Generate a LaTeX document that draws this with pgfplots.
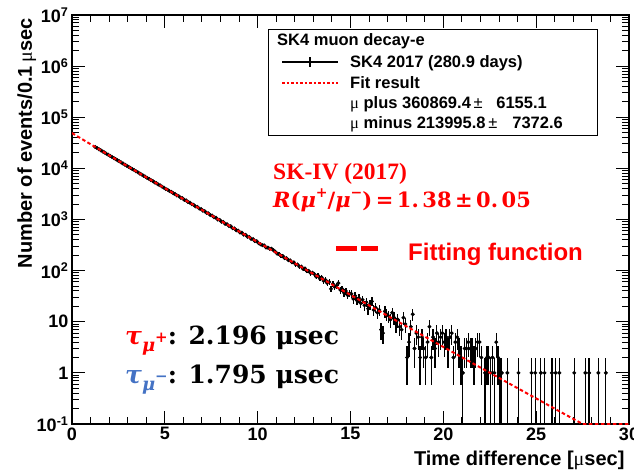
\documentclass[border=0pt]{standalone}
\usepackage{fontspec}
\setmainfont{Liberation Sans}
\newfontfamily\cam{Liberation Serif}
\newfontfamily\camb{DejaVu Serif}
\newfontfamily\sym{Liberation Serif}
\usepackage{pgfplots}
\pgfplotsset{compat=1.18}
\definecolor{skred}{RGB}{255,0,0}
\definecolor{skblue}{RGB}{68,114,196}

% decay-e time histogram, 0.1 usec bins (empty bins left out)
\pgfplotstableread{
t n e
1.25 26240 162
1.35 24910 158
1.45 23690 154
1.55 22590 150
1.65 21420 146
1.75 20450 143
1.85 19380 139
1.95 18520 136
2.05 17550 132
2.15 16760 129
2.25 15890 126
2.35 15170 123
2.45 14380 120
2.55 13750 117
2.65 13010 114
2.75 12450 112
2.85 11790 109
2.95 11270 106
3.05 10680 103
3.15 10210 101
3.25 9660 98
3.35 9250 96
3.45 8750 94
3.55 8390 92
3.65 7920 89
3.75 7600 87
3.85 7170 85
3.95 6880 83
4.05 6500 81
4.15 6240 79
4.25 5890 77
4.35 5660 75
4.45 5330 73
4.55 5130 72
4.65 4830 70
4.75 4650 68
4.85 4380 66
4.95 4210 65
5.05 3960 63
5.15 3820 62
5.25 3600 60
5.35 3470 59
5.45 3260 57
5.55 3150 56
5.65 2950 54
5.75 2860 53
5.85 2670 52
5.95 2600 51
6.05 2420 49
6.15 2360 49
6.25 2200 47
6.35 2135 46
6.45 1995 45
6.55 1940 44
6.65 1805 42
6.75 1765 42
6.85 1635 40
6.95 1600 40
7.05 1485 39
7.15 1450 38
7.25 1345 37
7.35 1320 36
7.45 1220 35
7.55 1195 35
7.65 1105 33
7.75 1085 33
7.85 1000 32
7.95 985 31
8.05 905 30
8.15 895 30
8.25 822 29
8.35 812 28
8.45 745 27
8.55 738 27
8.65 676 26
8.75 668 26
8.85 615 25
8.95 606 25
9.05 556 24
9.15 552 23
9.25 505 22
9.35 502 22
9.45 458 21
9.55 456 21
9.65 416 20
9.75 414 20
9.85 378 19
9.95 377 19
10.05 344 19
10.15 328 18
10.25 314 18
10.35 312 18
10.45 284 17
10.55 282 17
10.65 268 16
10.75 268 16
10.85 250 16
10.95 234 15
11.05 214 15
11.15 212 15
11.25 194 14
11.35 193 14
11.45 176 13
11.55 175 13
11.65 160 13
11.75 159 13
11.85 145 12
11.95 145 12
12.05 131 11
12.15 132 11
12.25 119 11
12.35 120 11
12.45 108 10
12.55 110 10
12.65 98 10
12.75 99 10
12.85 89 9
12.95 91 9
13.05 86 9.3
13.15 76 8.7
13.25 80 8.9
13.35 70 8.4
13.45 74 8.6
13.55 63 7.9
13.65 66 8.1
13.75 57 7.5
13.85 60 7.7
13.95 44 6.6
14.05 55 7.4
14.15 48 6.9
14.25 51 7.1
14.35 57 7.5
14.45 42 6.5
14.55 44 6.6
14.65 37 6.1
14.75 40 6.3
14.85 33 5.7
14.95 36 6
15.05 35 5.9
15.15 28 5.3
15.25 32 5.7
15.35 26 5.1
15.45 29 5.4
15.55 23 4.8
15.65 27 5.2
15.75 21 4.6
15.85 24 4.9
15.95 18 4.2
16.05 22 4.7
16.15 25 5
16.25 17 4.1
16.35 19 4.4
16.45 15 3.9
16.55 17 4.1
16.65 7 2.6
16.75 6 2.4
16.85 16 4
16.95 14 3.7
17.05 13 3.6
17.15 11 3.3
17.25 15 3.9
17.35 12 3.5
17.45 9 3
17.55 11 3.3
17.65 8 2.8
17.75 7 2.6
17.85 12 3.5
17.95 9 3
18.05 2 1.41
18.15 4 2
18.25 8 2.83
18.35 14 3.7
18.45 3 1.73
18.55 6 2.45
18.65 5 2.24
18.75 2 1.41
18.85 5 2.24
18.95 3 1.73
19.05 2 1.41
19.15 4 2
19.25 8 2.83
19.35 2 1.41
19.45 5 2.24
19.55 3 1.73
19.65 6 2.45
19.75 4 2
19.85 5 2.24
19.95 6 2.45
20.05 4 2
20.15 5 2.24
20.25 3 1.73
20.35 5 2.24
20.45 6 2.45
20.55 2 1.41
20.65 4 2
20.75 5 2.24
20.85 3 1.73
20.95 2 1.41
21.05 1 0.99
21.15 3 1.73
21.25 3 1.73
21.35 4 2
21.45 3 1.73
21.55 3 1.73
21.65 2 1.41
21.75 3 1.73
21.85 4 2
21.95 4 2
22.05 2 1.41
22.25 1 0.99
22.35 2 1.41
22.45 2 1.41
22.55 1 0.99
22.65 2 1.41
22.75 1 0.99
22.85 4 2
22.95 2 1.41
23.05 1 0.99
23.15 1 0.99
23.45 1 0.99
24.05 1 0.99
24.75 1 0.99
24.95 1 0.99
25.25 1 0.99
25.45 1 0.99
25.85 1 0.99
26.05 1 0.99
26.25 1 0.99
27.05 1 0.99
27.65 1 0.99
27.85 1 0.99
28.35 1 0.99
28.75 1 0.99
}\decaydata

\begin{document}
\begin{tikzpicture}
\begin{axis}[
  name=ax, at={(0pt,0pt)}, anchor=south west,
  scale only axis, width=557pt, height=409pt,
  xmin=0, xmax=30, ymode=log, ymin=0.1, ymax=1e7,
  xtick={0,5,10,15,20,25,30}, xticklabels={0,5,10,15,20,25,30},
  minor x tick num=4,
  ytick={1e-1,1,10,100,1e3,1e4,1e5,1e6,1e7},
  yticklabels={10\textsuperscript{-1},1,10,10\textsuperscript{2},10\textsuperscript{3},10\textsuperscript{4},10\textsuperscript{5},10\textsuperscript{6},10\textsuperscript{7}},
  minor ytick={0.2,0.3,0.4,0.5,0.6,0.7,0.8,0.9,2,3,4,5,6,7,8,9,20,30,40,50,60,70,80,90,200,300,400,500,600,700,800,900,2e3,3e3,4e3,5e3,6e3,7e3,8e3,9e3,2e4,3e4,4e4,5e4,6e4,7e4,8e4,9e4,2e5,3e5,4e5,5e5,6e5,7e5,8e5,9e5,2e6,3e6,4e6,5e6,6e6,7e6,8e6,9e6},
  tick align=inside, xtick pos=both, ytick pos=both,
  xticklabel pos=lower, yticklabel pos=left,
  major tick length=13pt, minor tick length=7pt,
  every tick/.style={black, line width=1pt},
  axis line style={line width=1.6pt},
  tick label style={font=\fontsize{18}{18}\selectfont\bfseries},
  clip mode=individual,
]
\addplot[black, only marks, mark=*, mark size=1.8pt,
  error bars/.cd, x dir=both, x fixed=0.05, y dir=both, y explicit,
  error mark=none, error bar style={line width=1.3pt}]
  table[x=t, y=n, y error=e] {\decaydata};
\addplot[skred, line width=2pt, dash pattern=on 3.5pt off 2.5pt] coordinates {
(0,49050) (1,29694) (2,18023) (3,10966) (4,6688) (5,4090) (6,2507) (7,1540)
(8,948) (9,585) (10,361.5) (11,223.9) (12,138.9) (13,86.3) (14,53.7) (15,33.5)
(16,20.9) (17,13.07) (18,8.18) (19,5.13) (20,3.215) (21,2.019) (22,1.269)
(23,0.798) (24,0.502) (25,0.316) (26,0.199) (27,0.126) (27.5,0.1) (30,0.1)};
\end{axis}

% axis titles
\node[rotate=90, anchor=base east, font=\fontsize{20}{20}\selectfont\bfseries]
  at (-40pt,409pt) {Number of events/0.1\,{\sym\mdseries μ}sec};
\node[anchor=base east, font=\fontsize{20}{20}\selectfont\bfseries]
  at (556pt,-41pt) {Time difference [{\sym\mdseries μ}sec]};

% ROOT legend box
\draw[line width=0.8pt, fill=white] (196pt,289pt) rectangle (525pt,395pt);
\begin{scope}[every node/.style={anchor=base west, inner sep=0pt, font=\fontsize{16.5}{16.5}\selectfont\bfseries}]
\node at (205pt,378pt) {SK4 muon decay-e};
\draw[line width=1.2pt] (210pt,362pt) -- (266pt,362pt);
\draw[line width=1.2pt] (238pt,357pt) -- (238pt,367pt);
\node at (278pt,356pt) {SK4 2017 (280.9 days)};
\draw[skred, line width=1.2pt, dash pattern=on 2.5pt off 2pt] (210pt,341pt) -- (266pt,341pt);
\node at (278pt,335pt) {Fit result};
\node at (278pt,315pt) {{\sym\mdseries μ} plus 360869.4\,{\mdseries ±}};
\node[anchor=base east] at (475pt,315pt) {6155.1};
\node at (278pt,295pt) {{\sym\mdseries μ} minus 213995.8\,{\mdseries ±}};
\node[anchor=base east] at (491pt,295pt) {7372.6};
\end{scope}

% annotations
\node[anchor=base west, inner sep=0pt, skred, font=\cam\fontsize{23.5}{23.5}\selectfont\bfseries]
  at (201pt,244pt) {SK-IV (2017)};
\node[anchor=base west, inner sep=0pt, skred, font=\camb\fontsize{21}{21}\selectfont\bfseries]
  at (201pt,216pt) {\itshape R\upshape(\itshape μ\upshape\raisebox{0.5em}{\fontsize{14}{14}\selectfont +}/\itshape μ\upshape\raisebox{0.5em}{\fontsize{14}{14}\selectfont −})\,=\,1.\,38\,±\,0.\,05};
\draw[skred, line width=5pt] (264pt,176pt) -- (285pt,176pt);
\draw[skred, line width=5pt] (289pt,176pt) -- (306pt,176pt);
\node[anchor=base west, inner sep=0pt, skred, font=\fontsize{24}{24}\selectfont\bfseries]
  at (336pt,164pt) {Fitting function};

\node[anchor=base west, inner sep=0pt, font=\camb\fontsize{25}{25}\selectfont\bfseries]
  at (53pt,80pt) {{\color{skred}\itshape τ\raisebox{-0.3em}{\fontsize{18}{18}\selectfont μ\raisebox{0.5em}{\fontsize{15}{15}\selectfont\upshape +}}}: 2.196 μsec};
\node[anchor=base west, inner sep=0pt, font=\camb\fontsize{25}{25}\selectfont\bfseries]
  at (53pt,41pt) {{\color{skblue}\itshape τ\raisebox{-0.3em}{\fontsize{18}{18}\selectfont μ\raisebox{0.5em}{\fontsize{15}{15}\selectfont\upshape −}}}: 1.795 μsec};

\pgfresetboundingbox
\useasboundingbox (-72pt,-45pt) rectangle (562pt,424pt);
\end{tikzpicture}
\end{document}
